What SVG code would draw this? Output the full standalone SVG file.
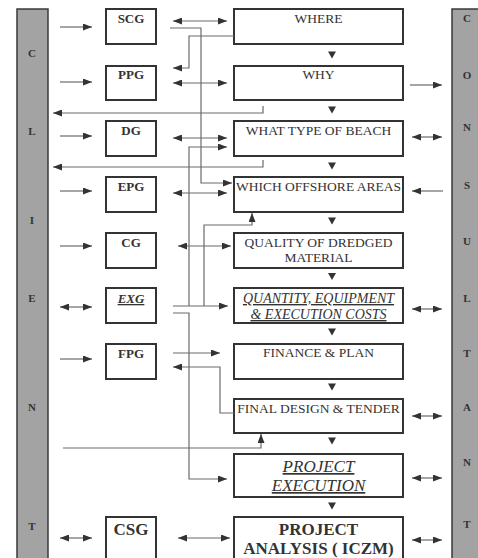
<svg xmlns="http://www.w3.org/2000/svg" width="478" height="558" viewBox="0 0 478 558">
<style>
.bar{fill:#a3a3a3;stroke:#3a3a3a;stroke-width:1.5}
.box{fill:#fff;stroke:#333;stroke-width:2}
.bl{font-family:"Liberation Serif",serif;font-weight:bold;font-size:11px;fill:#333;text-anchor:middle}
.sl{font-family:"Liberation Serif",serif;font-weight:bold;font-size:13px;fill:#333;text-anchor:middle}
.rl{font-family:"Liberation Serif",serif;font-size:13.5px;fill:#333;text-anchor:middle}
.it{font-style:italic;text-decoration:underline}
.c{fill:none;stroke:#6a6a6a;stroke-width:1.2}
.e{marker-end:url(#ah)}
.d{marker-start:url(#ah);marker-end:url(#ah)}
.tri{fill:#333}
</style>
<defs>
<marker id="ah" markerUnits="userSpaceOnUse" markerWidth="9" markerHeight="7" refX="9" refY="3.5" orient="auto-start-reverse">
<path d="M0,0 L9,3.5 L0,7 z" fill="#333"/>
</marker>
</defs>
<rect width="478" height="558" fill="#fff"/>
<g id="client">
<rect class="bar" x="17" y="9" width="31" height="560"/>
<text class="bl" x="32" y="57">C</text>
<text class="bl" x="32" y="135">L</text>
<text class="bl" x="32" y="224">I</text>
<text class="bl" x="32" y="302">E</text>
<text class="bl" x="32" y="411">N</text>
<text class="bl" x="32" y="530">T</text>
</g>
<g id="consultant">
<rect class="bar" x="452" y="9" width="32" height="560"/>
<text class="bl" x="467" y="22">C</text>
<text class="bl" x="467" y="79">O</text>
<text class="bl" x="467" y="131">N</text>
<text class="bl" x="467" y="189">S</text>
<text class="bl" x="467" y="245">U</text>
<text class="bl" x="467" y="302">L</text>
<text class="bl" x="467" y="357">T</text>
<text class="bl" x="467" y="411">A</text>
<text class="bl" x="467" y="466">N</text>
<text class="bl" x="467" y="528">T</text>
</g>
<g id="scg"><rect class="box" x="106" y="9" width="50" height="35"/><text class="sl" x="131" y="23">SCG</text></g>
<g id="ppg"><rect class="box" x="106" y="66" width="50" height="34"/><text class="sl" x="131" y="79">PPG</text></g>
<g id="dg"><rect class="box" x="106" y="121" width="50" height="35"/><text class="sl" x="131" y="135">DG</text></g>
<g id="epg"><rect class="box" x="106" y="177" width="50" height="35"/><text class="sl" x="131" y="191">EPG</text></g>
<g id="cg"><rect class="box" x="106" y="233" width="50" height="35"/><text class="sl" x="131" y="247">CG</text></g>
<g id="exg"><rect class="box" x="106" y="288" width="50" height="35"/><text class="sl it" x="131" y="303">EXG</text></g>
<g id="fpg"><rect class="box" x="106" y="344" width="50" height="35"/><text class="sl" x="131" y="358">FPG</text></g>
<g id="csg"><rect class="box" x="106" y="517" width="50" height="50"/><text class="sl" x="131" y="535" style="font-size:17px">CSG</text></g>
<g id="where"><rect class="box" x="234" y="9" width="169" height="35"/><text class="rl" x="318.5" y="23">WHERE</text></g>
<g id="why"><rect class="box" x="234" y="66" width="169" height="34"/><text class="rl" x="318.5" y="79">WHY</text></g>
<g id="beach"><rect class="box" x="234" y="121" width="169" height="35"/><text class="rl" x="318.5" y="135">WHAT TYPE OF BEACH</text></g>
<g id="offshore"><rect class="box" x="234" y="177" width="169" height="35"/><text class="rl" x="318.5" y="191">WHICH OFFSHORE AREAS</text></g>
<g id="quality"><rect class="box" x="234" y="233" width="169" height="35"/><text class="rl" x="318.5" y="247">QUALITY OF DREDGED</text><text class="rl" x="318.5" y="262">MATERIAL</text></g>
<g id="quantity"><rect class="box" x="234" y="288" width="169" height="35"/><text class="rl it" x="318.5" y="303" style="font-size:14px">QUANTITY, EQUIPMENT</text><text class="rl it" x="318.5" y="319" style="font-size:14px">&amp; EXECUTION COSTS</text></g>
<g id="finance"><rect class="box" x="234" y="344" width="169" height="35"/><text class="rl" x="318.5" y="357">FINANCE &amp; PLAN</text></g>
<g id="final"><rect class="box" x="234" y="399" width="169" height="34"/><text class="rl" x="318.5" y="413">FINAL DESIGN &amp; TENDER</text></g>
<g id="execution"><rect class="box" x="234" y="454" width="169" height="43"/><text class="rl it" x="318.5" y="472" style="font-size:17px">PROJECT</text><text class="rl it" x="318.5" y="491" style="font-size:17px">EXECUTION</text></g>
<g id="analysis"><rect class="box" x="234" y="517" width="169" height="50"/><text class="rl" x="318.5" y="535" style="font-size:17px;font-weight:bold">PROJECT</text><text class="rl" x="318.5" y="554" style="font-size:17px;font-weight:bold">ANALYSIS ( ICZM)</text></g>
<g id="connectors">
<path class="c e" d="M60,27 H92"/>
<path class="c e" d="M60,82 H92"/>
<path class="c e" d="M60,136 H92"/>
<path class="c e" d="M60,191 H92"/>
<path class="c e" d="M60,246 H92"/>
<path class="c d" d="M60,307 H92"/>
<path class="c e" d="M60,359 H92"/>
<path class="c d" d="M60,538 H92"/>
<path class="c d" d="M173,21 H227"/>
<path class="c e" d="M170,28 H201 V183 H232"/>
<path class="c e" d="M234,36 H189 V68 H173"/>
<path class="c d" d="M173,83 H227"/>
<path class="c e" d="M263,106 V113 H53"/>
<path class="c d" d="M173,138 H227"/>
<path class="c e" d="M189,306 V147 H227"/>
<path class="c e" d="M263,160 V167 H53"/>
<path class="c d" d="M173,193 H227"/>
<path class="c d" d="M178,246 H231"/>
<path class="c e" d="M204,306 V225 H252 V213"/>
<path class="c e" d="M173,306 H228"/>
<path class="c e" d="M173,313 H189 V479 H227"/>
<path class="c e" d="M173,353 H220"/>
<path class="c e" d="M234,413 H220 V367 H173"/>
<path class="c e" d="M63,448 H261 V434"/>
<path class="c d" d="M178,538 H230"/>
<path class="c e" d="M410,85 H442"/>
<path class="c d" d="M412,137 H442"/>
<path class="c e" d="M443,191 H412"/>
<path class="c d" d="M412,309 H442"/>
<path class="c d" d="M412,416 H442"/>
<path class="c d" d="M412,478 H442"/>
<path class="c d" d="M412,540 H442"/>
<polygon class="tri" points="328,51.5 336,51.5 332,58.5"/>
<polygon class="tri" points="328,106.5 336,106.5 332,113.5"/>
<polygon class="tri" points="328,162.5 336,162.5 332,169.5"/>
<polygon class="tri" points="328,217.5 336,217.5 332,224.5"/>
<polygon class="tri" points="328,273 336,273 332,280"/>
<polygon class="tri" points="328,328.5 336,328.5 332,335.5"/>
<polygon class="tri" points="328,383.5 336,383.5 332,390.5"/>
<polygon class="tri" points="328,437.5 336,437.5 332,444.5"/>
<polygon class="tri" points="328,502.5 336,502.5 332,509.5"/>
</g>
</svg>
